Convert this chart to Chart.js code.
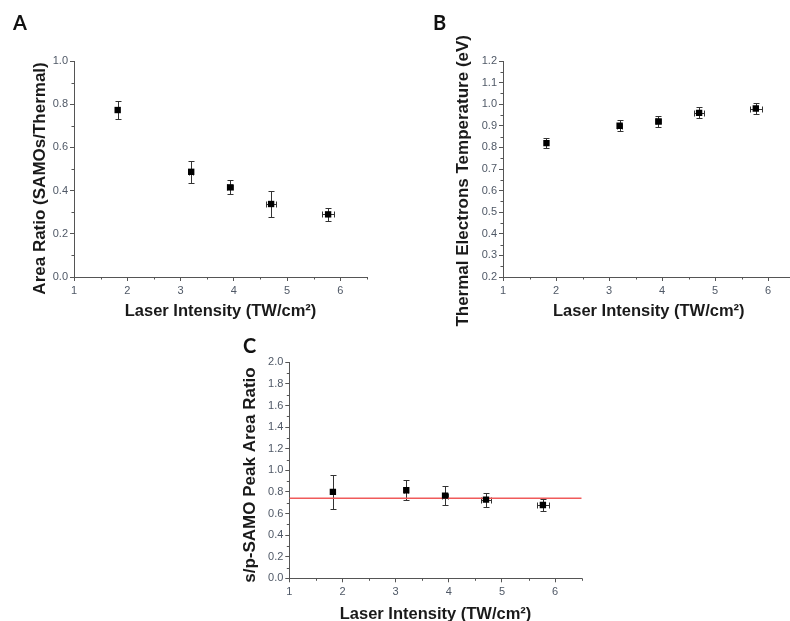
<!DOCTYPE html>
<html>
<head>
<meta charset="utf-8">
<script src="https://cdn.jsdelivr.net/npm/chart.js@4.4.0/dist/chart.umd.min.js"></script>
<style>
html,body{margin:0;padding:0;background:#fff;overflow:hidden;width:790px;height:621px;position:relative;}
canvas{position:absolute;}
</style>
</head>
<body>
<canvas id="cA" width="400" height="330" style="left:0px;top:0px"></canvas>
<canvas id="cB" width="410" height="330" style="left:400px;top:0px"></canvas>
<canvas id="cC" width="420" height="320" style="left:200px;top:320px"></canvas>
<script>
// ---------- data ----------
const intensity      = [1.82, 3.2, 3.93, 4.7, 5.77];
const intensityErr   = [0, 0.04, 0.05, 0.1, 0.11];
const areaRatio      = [0.773, 0.487, 0.415, 0.338, 0.29];
const areaRatioErr   = [0.043, 0.05, 0.033, 0.061, 0.029];
const temperature    = [0.82, 0.90, 0.92, 0.96, 0.98];
const temperatureErr = [0.025, 0.025, 0.025, 0.025, 0.025];
const spRatio        = [0.80, 0.815, 0.765, 0.728, 0.679];
const spRatioErr     = [0.155, 0.093, 0.086, 0.066, 0.052];
const spFitLevel     = 0.741;
const xRange         = [1, 6.5];
const xTickStep      = 1;
const xMinorStep     = 0.5;
const yRangeA = [0, 1],   yStepA = 0.2, yMinorA = 0.1;
const yRangeB = [0.2, 1.2], yStepB = 0.1, yMinorB = 0.05;
const yRangeC = [0, 2],   yStepC = 0.2, yMinorC = 0.1;
const xTitle = 'Laser Intensity (TW/cm\u00B2)';
const yTitleA = 'Area Ratio (SAMOs/Thermal)';
const yTitleB = 'Thermal Electrons Temperature (eV)';
const yTitleC = 's/p-SAMO Peak Area Ratio';

const TICK_COLOR = '#4f5866';
const AXIS_COLOR = '#555555';
const TITLE_COLOR = '#1a1a1a';
const TICK_FONT = {family: '"Liberation Sans", Arial, sans-serif', size: 11};

function pts(xs, ys) { return xs.map((x, i) => ({x: x, y: ys[i]})); }

const extras = {
  id: 'extras',
  beforeDatasetsDraw(chart) {
    const ctx = chart.ctx, xs = chart.scales.x, ys = chart.scales.y;
    ctx.save();
    ctx.strokeStyle = '#333';
    ctx.lineWidth = 1;
    const line = (a, b, c, d) => { ctx.beginPath(); ctx.moveTo(a, b); ctx.lineTo(c, d); ctx.stroke(); };
    chart.data.datasets.forEach(ds => {
      if (!ds.yErr) return;
      ds.data.forEach((p, i) => {
        const px = Math.round(xs.getPixelForValue(p.x)) + 0.5;
        const py = Math.round(ys.getPixelForValue(p.y)) + 0.5;
        const ey = ds.yErr[i], ex = ds.xErr ? ds.xErr[i] : 0, cap = 3;
        if (ey) {
          const t = Math.round(ys.getPixelForValue(p.y + ey)) + 0.5;
          const b = Math.round(ys.getPixelForValue(p.y - ey)) + 0.5;
          line(px, t, px, b); line(px - cap, t, px + cap, t); line(px - cap, b, px + cap, b);
        }
        if (ex) {
          const l = Math.round(xs.getPixelForValue(p.x - ex)) + 0.5;
          const r = Math.round(xs.getPixelForValue(p.x + ex)) + 0.5;
          line(l, py, r, py); line(l, py - cap, l, py + cap); line(r, py - cap, r, py + cap);
        }
      });
    });
    ctx.restore();
  },
  afterDraw(chart, args, opts) {
    const ctx = chart.ctx, xs = chart.scales.x, ys = chart.scales.y, ca = chart.chartArea;
    ctx.save();
    ctx.strokeStyle = AXIS_COLOR;
    ctx.lineWidth = 1;
    const yMin = ys.min, yMax = ys.max;
    const n = Math.round((yMax - yMin) / opts.yMinor);
    for (let k = 0; k <= n; k++) {
      const v = yMin + k * opts.yMinor;
      const r = (v - yMin) / opts.yStep;
      if (Math.abs(r - Math.round(r)) < 1e-6) continue;
      const y = Math.round(ys.getPixelForValue(v)) + 0.5;
      ctx.beginPath(); ctx.moveTo(ca.left - 2.5, y); ctx.lineTo(ca.left, y); ctx.stroke();
    }
    const nx = Math.round((xs.max - xs.min) / opts.xMinor);
    for (let k = 0; k <= nx; k++) {
      const v = xs.min + k * opts.xMinor;
      if (Math.abs(v - Math.round(v)) < 1e-6) continue;
      const x = Math.round(xs.getPixelForValue(v)) + 0.5;
      ctx.beginPath(); ctx.moveTo(x, ca.bottom); ctx.lineTo(x, ca.bottom + 2.5); ctx.stroke();
    }
    if (opts.letter) {
      ctx.fillStyle = '#111';
      ctx.font = 'bold 20px Lato, "Open Sans", sans-serif';
      ctx.textBaseline = 'alphabetic';
      ctx.textAlign = 'left';
      ctx.fillText(opts.letter, opts.letterX, opts.letterY);
    }
    ctx.restore();
  }
};

function makePanel(id, p) {
  const canvas = document.getElementById(id);
  const H = canvas.height;
  const yLH = p.yTitleSize * 1.2, xLH = p.xTitleSize * 1.2;
  return new Chart(canvas, {
    type: 'scatter',
    data: {datasets: p.datasets},
    options: {
      responsive: false,
      animation: false,
      devicePixelRatio: 1,
      layout: {padding: {left: 0, bottom: 0, top: p.areaTop, right: canvas.width - p.areaRight}},
      plugins: {
        legend: {display: false},
        tooltip: {enabled: false},
        extras: {yMinor: p.yMinor, yStep: p.yStep, xMinor: xMinorStep, letter: p.letter, letterX: p.letterX, letterY: p.letterY}
      },
      scales: {
        x: {
          type: 'linear', min: xRange[0], max: xRange[1],
          afterFit: s => { s.height = H - p.areaBottom; },
          ticks: {stepSize: xTickStep, includeBounds: false, autoSkip: false, maxRotation: 0,
                  color: TICK_COLOR, font: TICK_FONT, padding: 3, callback: v => String(v)},
          grid: {drawOnChartArea: false, drawTicks: true, tickLength: 4, color: AXIS_COLOR},
          border: {display: true, color: AXIS_COLOR, width: 1},
          title: {display: true, text: xTitle, color: TITLE_COLOR,
                  font: {family: '"Liberation Sans", Arial, sans-serif', size: p.xTitleSize, weight: 'bold'},
                  padding: {top: 0, bottom: H - p.xTitleY - xLH / 2}}
        },
        y: {
          type: 'linear', min: p.yRange[0], max: p.yRange[1],
          afterFit: s => { s.width = p.areaLeft; },
          ticks: {stepSize: p.yStep, autoSkip: false, color: TICK_COLOR, font: TICK_FONT, padding: 2,
                  callback: v => Number(v).toFixed(1)},
          grid: {drawOnChartArea: false, drawTicks: true, tickLength: 4, color: AXIS_COLOR},
          border: {display: true, color: AXIS_COLOR, width: 1},
          title: {display: true, text: p.yTitle, color: TITLE_COLOR,
                  font: {family: '"Liberation Sans", Arial, sans-serif', size: p.yTitleSize, weight: 'bold'},
                  padding: {top: p.yTitleX - yLH / 2, bottom: 0}}
        }
      }
    },
    plugins: [extras]
  });
}

const markerStyle = {pointStyle: 'rect', pointRadius: 4.5, pointBackgroundColor: '#000', pointBorderColor: '#000',
                     pointBorderWidth: 0, showLine: false, order: 1};

makePanel('cA', {
  areaLeft: 74, areaTop: 61, areaRight: 367, areaBottom: 277,
  yRange: yRangeA, yStep: yStepA, yMinor: yMinorA,
  yTitle: yTitleA + '    ', yTitleSize: 17, yTitleX: 40,
  xTitleSize: 16.5, xTitleY: 311,
  letter: 'A', letterX: 13, letterY: 30,
  datasets: [Object.assign({data: pts(intensity, areaRatio), yErr: areaRatioErr, xErr: intensityErr}, markerStyle)]
});

makePanel('cB', {
  areaLeft: 103, areaTop: 61, areaRight: 394.5, areaBottom: 277,
  yRange: yRangeB, yStep: yStepB, yMinor: yMinorB,
  yTitle: yTitleB + '     ', yTitleSize: 17, yTitleX: 63.5,
  xTitleSize: 16.5, xTitleY: 311,
  letter: 'B', letterX: 33, letterY: 30,
  datasets: [Object.assign({data: pts(intensity, temperature), yErr: temperatureErr, xErr: intensityErr}, markerStyle)]
});

makePanel('cC', {
  areaLeft: 89.3, areaTop: 42.3, areaRight: 381.7, areaBottom: 258.3,
  yRange: yRangeC, yStep: yStepC, yMinor: yMinorC,
  yTitle: yTitleC + '  ', yTitleSize: 17, yTitleX: 50,
  xTitleSize: 16.5, xTitleY: 294,
  letter: 'C', letterX: 43, letterY: 33,
  datasets: [
    Object.assign({data: pts(intensity, spRatio), yErr: spRatioErr, xErr: intensityErr}, markerStyle),
    {data: [{x: xRange[0], y: spFitLevel}, {x: xRange[1], y: spFitLevel}], showLine: true, pointRadius: 0,
     borderColor: '#f05a5a', borderWidth: 1.5, order: 2}
  ]
});
</script>
</body>
</html>
